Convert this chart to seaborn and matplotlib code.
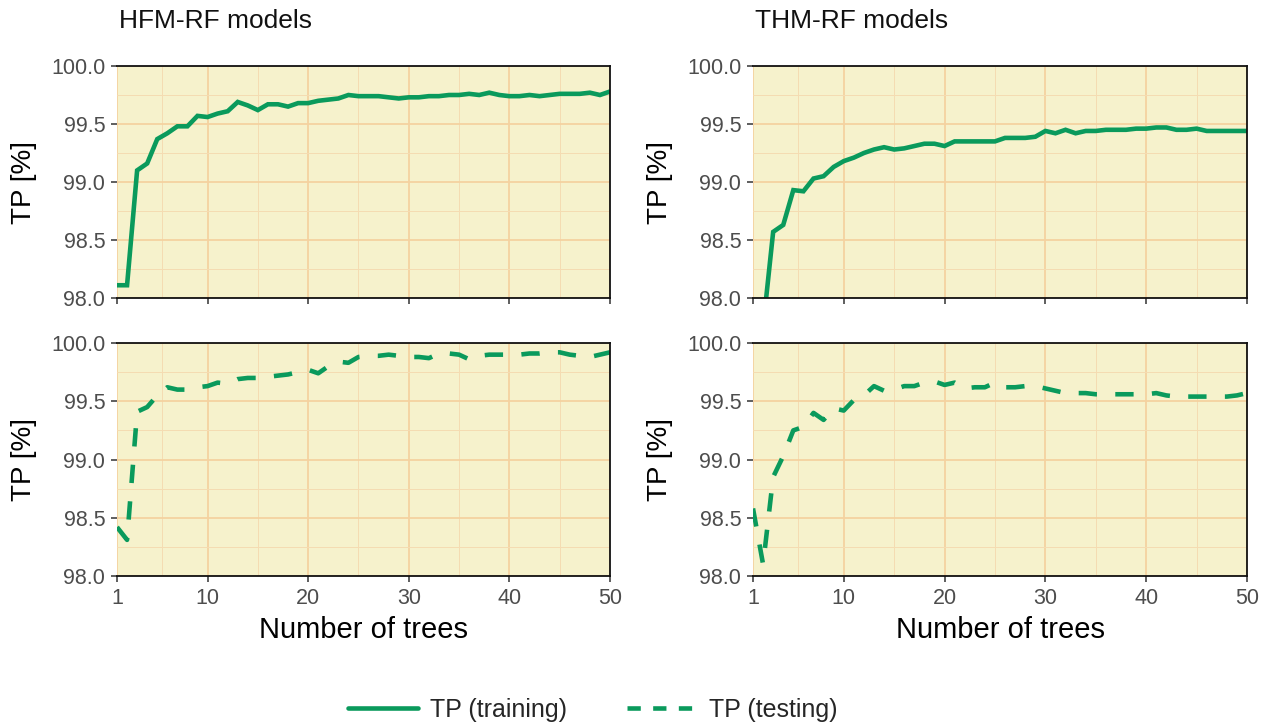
import matplotlib
matplotlib.use("Agg")
import matplotlib.pyplot as plt
from matplotlib.lines import Line2D
from matplotlib.ticker import FixedLocator, FormatStrFormatter
import pandas as pd
import seaborn as sns

# ---- data -------------------------------------------------------------
trees = list(range(1, 51))

hfm_training = [98.11, 98.11, 99.10, 99.16, 99.37, 99.42, 99.48, 99.48, 99.57, 99.56,
                99.59, 99.61, 99.69, 99.66, 99.62, 99.67, 99.67, 99.65, 99.68, 99.68,
                99.70, 99.71, 99.72, 99.75, 99.74, 99.74, 99.74, 99.73, 99.72, 99.73,
                99.73, 99.74, 99.74, 99.75, 99.75, 99.76, 99.75, 99.77, 99.75, 99.74,
                99.74, 99.75, 99.74, 99.75, 99.76, 99.76, 99.76, 99.77, 99.75, 99.78]

hfm_testing = [98.42, 98.31, 99.41, 99.45, 99.55, 99.62, 99.60, 99.60, 99.62, 99.63,
               99.66, 99.65, 99.69, 99.70, 99.70, 99.71, 99.72, 99.73, 99.75, 99.77,
               99.74, 99.80, 99.84, 99.83, 99.88, 99.89, 99.89, 99.90, 99.89, 99.88,
               99.88, 99.87, 99.91, 99.91, 99.90, 99.86, 99.89, 99.90, 99.90, 99.90,
               99.90, 99.91, 99.91, 99.92, 99.92, 99.90, 99.89, 99.88, 99.90, 99.92]

thm_training = [97.00, 97.75, 98.57, 98.63, 98.93, 98.92, 99.03, 99.05, 99.13, 99.18,
                99.21, 99.25, 99.28, 99.30, 99.28, 99.29, 99.31, 99.33, 99.33, 99.31,
                99.35, 99.35, 99.35, 99.35, 99.35, 99.38, 99.38, 99.38, 99.39, 99.44,
                99.42, 99.45, 99.42, 99.44, 99.44, 99.45, 99.45, 99.45, 99.46, 99.46,
                99.47, 99.47, 99.45, 99.45, 99.46, 99.44, 99.44, 99.44, 99.44, 99.44]

thm_testing = [98.58, 98.10, 98.85, 99.03, 99.25, 99.28, 99.40, 99.34, 99.44, 99.42,
               99.51, 99.55, 99.63, 99.59, 99.60, 99.63, 99.63, 99.66, 99.67, 99.64,
               99.66, 99.61, 99.62, 99.62, 99.66, 99.62, 99.62, 99.63, 99.63, 99.61,
               99.59, 99.57, 99.57, 99.57, 99.56, 99.56, 99.56, 99.56, 99.56, 99.56,
               99.57, 99.55, 99.54, 99.54, 99.54, 99.54, 99.54, 99.54, 99.55, 99.57]

panel_titles = ["HFM-RF models", "THM-RF models"]
series_labels = ["TP (training)", "TP (testing)"]
x_ticks = [1, 10, 20, 30, 40, 50]
x_minor = [5.5, 15, 25, 35, 45]
y_ticks = [98.0, 98.5, 99.0, 99.5, 100.0]
y_minor = [98.25, 98.75, 99.25, 99.75]
y_label = "TP [%]"
x_label = "Number of trees"

# ---- style ------------------------------------------------------------
sns.set_theme(style="white")
plt.rcParams["font.family"] = ["Liberation Sans", "DejaVu Sans"]

GREEN = "#0a9a5c"
PANEL = "#f6f2cc"
GRID_MAJOR = "#f4d2a0"
GRID_MINOR = "#f4dcb2"
TICK_TXT = "#4d4d4d"
LW = 3.3
DASHED = (0, (4, 4))

W, H = 1274, 724
fig = plt.figure(figsize=(W / 100, H / 100), dpi=100)


def add_panel(left, top, right, bottom):
    return fig.add_axes([left / W, 1 - bottom / H, (right - left) / W, (bottom - top) / H])


panels = [
    (add_panel(117, 66, 610, 298), hfm_training, "-", 0, True),
    (add_panel(117, 343, 610, 576), hfm_testing, DASHED, 0, False),
    (add_panel(753, 66, 1247, 298), thm_training, "-", 1, True),
    (add_panel(753, 343, 1247, 576), thm_testing, DASHED, 1, False),
]

for ax, values, ls, col, is_top in panels:
    df = pd.DataFrame({"trees": trees, "tp": values})
    ax.set_facecolor(PANEL)
    sns.lineplot(data=df, x="trees", y="tp", ax=ax, color=GREEN, linewidth=LW,
                 linestyle=ls, errorbar=None, solid_joinstyle="miter",
                 dash_capstyle="butt")

    ax.set_xlim(1, 50)
    ax.set_ylim(98, 100)
    ax.xaxis.set_major_locator(FixedLocator(x_ticks))
    ax.xaxis.set_minor_locator(FixedLocator(x_minor))
    ax.yaxis.set_major_locator(FixedLocator(y_ticks))
    ax.yaxis.set_minor_locator(FixedLocator(y_minor))
    ax.yaxis.set_major_formatter(FormatStrFormatter("%.1f"))

    ax.set_axisbelow(True)
    ax.grid(which="major", color=GRID_MAJOR, linewidth=1.3)
    ax.grid(which="minor", color=GRID_MINOR, linewidth=0.7)

    for side in ("top", "right", "bottom"):
        ax.spines[side].set_visible(True)
        ax.spines[side].set_color("#111111")
        ax.spines[side].set_linewidth(1.3)
    ax.spines["left"].set_visible(False)

    ax.tick_params(which="major", bottom=True, left=True, length=4.5, width=1.1,
                   color="#333333", labelsize=15.5, labelcolor=TICK_TXT, pad=4)
    ax.tick_params(which="minor", bottom=False, left=False, length=0)

    ax.set_ylabel(y_label, fontsize=20, color="black")
    ax.yaxis.set_label_coords(-0.162, 0.5)

    if is_top:
        ax.tick_params(labelbottom=False)
        ax.set_xlabel("")
        ax.set_title(panel_titles[col], loc="left", fontsize=19, color="#111111",
                     pad=27, x=0.004)
    else:
        ax.set_xlabel(x_label, fontsize=21, color="black")
        ax.xaxis.set_label_coords(0.5, -0.172)

handles = [
    Line2D([], [], color=GREEN, linewidth=LW, linestyle="-"),
    Line2D([], [], color=GREEN, linewidth=LW, linestyle=(0, (2.9, 2.7)), dash_capstyle="butt"),
]
fig.legend(handles, series_labels, loc="center", bbox_to_anchor=(593 / W, 1 - 710 / H),
           ncol=2, frameon=False, fontsize=18, handlelength=2.8, handletextpad=0.48,
           columnspacing=2.4)

fig.savefig("out.png", dpi=100, facecolor="white")
